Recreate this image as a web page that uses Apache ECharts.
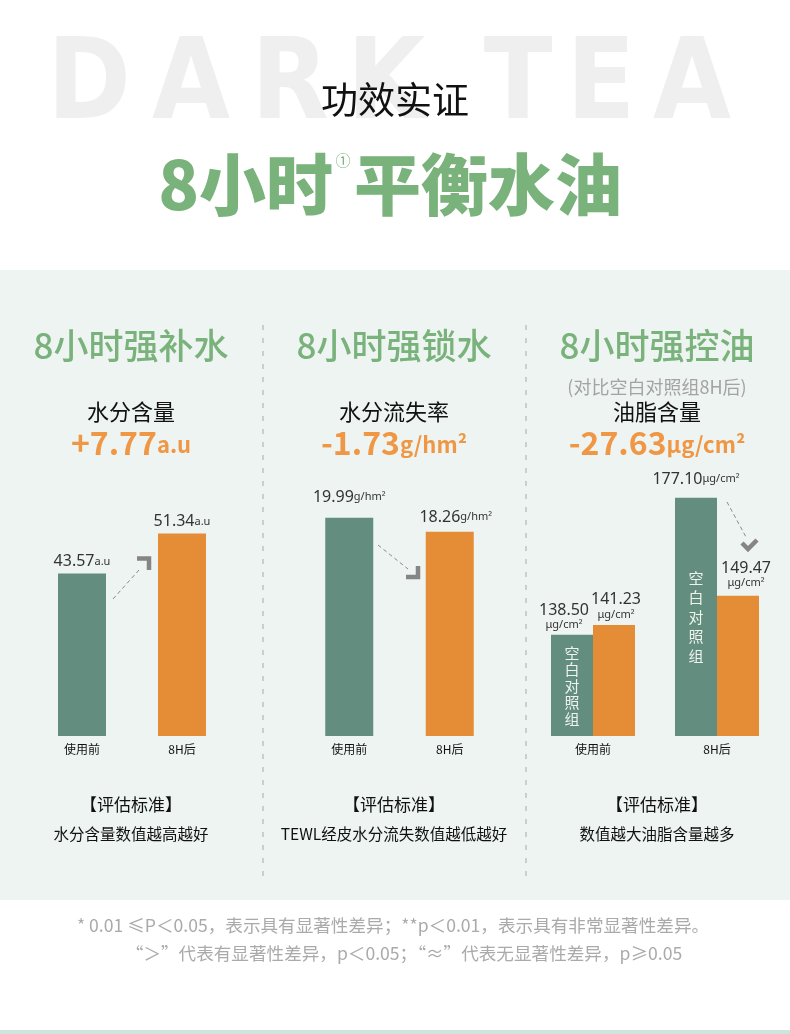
<!DOCTYPE html>
<html>
<head>
<meta charset="utf-8">
<script src="https://cdn.jsdelivr.net/npm/echarts@6/dist/echarts.min.js"></script>
<style>
  html, body { margin: 0; padding: 0; background: #fff; }
  #main { width: 790px; height: 1034px; }
</style>
</head>
<body>
<div id="main"></div>
<script>
// 数据
var categories = ['使用前', '8H后'];
var moistureValues = [43.57, 51.34];      // 水分含量 a.u
var tewlValues = [19.99, 18.26];          // 水分流失率 g/hm²
var oilControl = [138.50, 177.10];        // 空白对照组 μg/cm²
var oilTreated = [141.23, 149.47];        // 使用后 μg/cm²

var GREEN = '#628d7f';
var ORANGE = '#e48c36';
var TITLE_GREEN = '#7ab27c';
var TEXT_ORANGE = '#ef9745';
var CJK = '"Noto Sans CJK SC", "Noto Sans", sans-serif';
var NUM = '"Noto Sans", "DejaVu Sans", sans-serif';

function fmtDiff(a, b) {
  var d = b - a;
  return (d >= 0 ? '+' : '-') + Math.abs(d).toFixed(2);
}

var richLabel = {
  v: { fontSize: 16, color: '#333', fontFamily: NUM, lineHeight: 17 },
  u: { fontSize: 11, color: '#333', fontFamily: NUM, lineHeight: 13 }
};

var myChart = echarts.init(document.getElementById('main'));

/** 背景、标题等文字 */
var graphics = [];
graphics.push({ type: 'rect', z: -10, shape: { x: 0, y: 270, width: 790, height: 630 }, style: { fill: '#eef4f1' } });
graphics.push({ type: 'rect', z: -10, shape: { x: 0, y: 1030, width: 790, height: 4 }, style: { fill: '#cfe4dc' } });

var bgLetters = ['D', 'A', 'R', 'K', 'T', 'E', 'A'];
var bgLetterX = [89, 191, 290, 386, 518, 601, 692];
for (var i = 0; i < bgLetters.length; i++) {
  graphics.push({
    type: 'text', z: -5, x: bgLetterX[i], y: 89,
    style: { text: bgLetters[i], fontSize: 112, fontWeight: 'bold', fontFamily: '"DejaVu Sans Condensed", "DejaVu Sans", sans-serif',
             fill: '#efefef', align: 'center', verticalAlign: 'middle' }
  });
}

function txt(x, y, text, size, color, weight, align) {
  return {
    type: 'text', x: x, y: y, z: 5,
    style: { text: text, fontSize: size, fill: color, fontWeight: weight || 'normal', fontFamily: CJK,
             align: align || 'center', verticalAlign: 'middle' }
  };
}

graphics.push(txt(395, 100, '功效实证', 37, '#111'));
graphics.push(txt(333, 185, '8小时', 67, TITLE_GREEN, 900, 'right'));
graphics.push(txt(343, 160, '①', 15, TITLE_GREEN, 'normal'));
graphics.push(txt(354, 185, '平衡水油', 67, TITLE_GREEN, 900, 'left'));

// 分隔虚线
[263, 526].forEach(function (x) {
  graphics.push({ type: 'line', z: 1, shape: { x1: x, y1: 325, x2: x, y2: 880 },
                  style: { stroke: '#a8a8a8', lineWidth: 1, lineDash: [5, 8] } });
});

var colCenter = [131, 394, 657];
var colTitle = ['8小时强补水', '8小时强锁水', '8小时强控油'];
var colSub = ['水分含量', '水分流失率', '油脂含量'];
var colUnit = ['a.u', 'g/hm²', 'μg/cm²'];
var colDiff = [
  fmtDiff(moistureValues[0], moistureValues[1]),
  fmtDiff(tewlValues[0], tewlValues[1]),
  fmtDiff(oilControl[1], oilTreated[1])
];
var colNote = ['水分含量数值越高越好', 'TEWL经皮水分流失数值越低越好', '数值越大油脂含量越多'];

for (var c = 0; c < 3; c++) {
  graphics.push(txt(colCenter[c], 346, colTitle[c], 35, TITLE_GREEN, 500));
  graphics.push(txt(colCenter[c], 412, colSub[c], 22, '#111'));
  graphics.push({
    type: 'text', x: colCenter[c], y: 443, z: 5,
    style: {
      text: '{v|' + colDiff[c] + '}{u|' + colUnit[c] + '}',
      align: 'center', verticalAlign: 'middle',
      rich: {
        v: { fontSize: 32, fontWeight: 'bold', fill: TEXT_ORANGE, fontFamily: CJK, verticalAlign: 'bottom' },
        u: { fontSize: 22, fontWeight: 'bold', fill: TEXT_ORANGE, fontFamily: CJK, verticalAlign: 'bottom', padding: [0, 0, 3, 0] }
      }
    }
  });
  graphics.push(txt(colCenter[c], 805, '【评估标准】', 17, '#111'));
  graphics.push(txt(colCenter[c], 834, colNote[c], 15.5, '#111'));
}
graphics.push(txt(657, 387, '(对比空白对照组8H后)', 18, '#a3a3a3'));

graphics.push(txt(393, 925, '* 0.01 ≤P＜0.05，表示具有显著性差异；**p＜0.01，表示具有非常显著性差异。', 17.6, '#aaaaaa'));
graphics.push(txt(404, 953, '“＞”代表有显著性差异，p＜0.05；“≈”代表无显著性差异，p≥0.05', 17.6, '#aaaaaa'));

// 箭头
function arrow(dash, head) {
  graphics.push({ type: 'line', z: 3, shape: { x1: dash[0], y1: dash[1], x2: dash[2], y2: dash[3] },
                  style: { stroke: '#8a8a8a', lineWidth: 1, lineDash: [4, 3] } });
  graphics.push({ type: 'polyline', z: 3, shape: { points: head },
                  style: { stroke: '#858585', lineWidth: 4.5, fill: null } });
}
arrow([113, 599, 139, 570], [[137, 558.5], [149, 558.5], [149, 570]]);
arrow([378, 545, 408, 569], [[406, 577], [418, 577], [418, 566]]);
arrow([727, 502, 746, 537], [[742, 543], [748, 549], [757, 540]]);

// 空白对照组
graphics.push({ type: 'text', x: 572, y: 686, z: 10,
  style: { text: '空\n白\n对\n照\n组', fontSize: 15, lineHeight: 16.5, fill: '#eef3ee', fontFamily: CJK, align: 'center', verticalAlign: 'middle' } });
graphics.push({ type: 'text', x: 696, y: 617, z: 10,
  style: { text: '空\n白\n对\n照\n组', fontSize: 15, lineHeight: 19.5, fill: '#eef3ee', fontFamily: CJK, align: 'center', verticalAlign: 'middle' } });

var xAxisBase = {
  type: 'category',
  data: categories,
  axisLine: { show: false },
  axisTick: { show: false },
  axisLabel: { color: '#111', fontSize: 12, margin: 7, fontFamily: CJK }
};

var option = {
  animation: false,
  graphic: graphics,
  grid: [
    { left: 32, width: 200, top: 500, height: 236 },
    { left: 299, width: 201, top: 500, height: 236 },
    { left: 531, width: 248, top: 480, height: 256 }
  ],
  xAxis: [
    Object.assign({ gridIndex: 0 }, xAxisBase),
    Object.assign({ gridIndex: 1 }, xAxisBase),
    Object.assign({ gridIndex: 2 }, xAxisBase)
  ],
  yAxis: [
    { gridIndex: 0, type: 'value', min: 12, max: 57.83, show: false },
    { gridIndex: 1, type: 'value', min: -7, max: 22.17, startValue: -7, show: false },
    { gridIndex: 2, type: 'value', min: 110, max: 182.1, show: false }
  ],
  series: [
    {
      name: '水分含量', type: 'bar', xAxisIndex: 0, yAxisIndex: 0, barWidth: 48,
      data: moistureValues.map(function (v, i) {
        return { value: v, itemStyle: { color: i === 0 ? GREEN : ORANGE } };
      }),
      label: {
        show: true, position: 'top', distance: 3, rich: richLabel,
        formatter: function (p) { return '{v|' + p.value.toFixed(2) + '}{u|a.u}'; }
      }
    },
    {
      name: '水分流失率', type: 'bar', xAxisIndex: 1, yAxisIndex: 1, barWidth: 48,
      data: tewlValues.map(function (v, i) {
        return { value: v, itemStyle: { color: i === 0 ? GREEN : ORANGE },
                 label: { distance: i === 0 ? 12 : 6, offset: i === 0 ? [0, 0] : [6, 0] } };
      }),
      label: {
        show: true, position: 'top', rich: richLabel,
        formatter: function (p) { return '{v|' + p.value.toFixed(2) + '}{u|g/hm²}'; }
      }
    },
    {
      name: '空白对照组', type: 'bar', xAxisIndex: 2, yAxisIndex: 2, barWidth: 42, barGap: '0%',
      itemStyle: { color: GREEN },
      data: oilControl.map(function (v, i) {
        return { value: v, label: { distance: i === 0 ? 3 : 10, offset: i === 0 ? [-8, 0] : [0, 0] } };
      }),
      label: {
        show: true, position: 'top', rich: richLabel,
        formatter: function (p) {
          return p.dataIndex === 0
            ? '{v|' + p.value.toFixed(2) + '}\n{u|μg/cm²}'
            : '{v|' + p.value.toFixed(2) + '}{u|μg/cm²}';
        }
      }
    },
    {
      name: '8H后', type: 'bar', xAxisIndex: 2, yAxisIndex: 2, barWidth: 42, barGap: '0%',
      itemStyle: { color: ORANGE },
      data: oilTreated.map(function (v, i) {
        return { value: v, label: { distance: i === 0 ? 4 : 6, offset: i === 0 ? [2, 0] : [8, 0] } };
      }),
      label: {
        show: true, position: 'top', rich: richLabel,
        formatter: function (p) { return '{v|' + p.value.toFixed(2) + '}\n{u|μg/cm²}'; }
      }
    }
  ]
};
myChart.setOption(option);
</script>
</body>
</html>
